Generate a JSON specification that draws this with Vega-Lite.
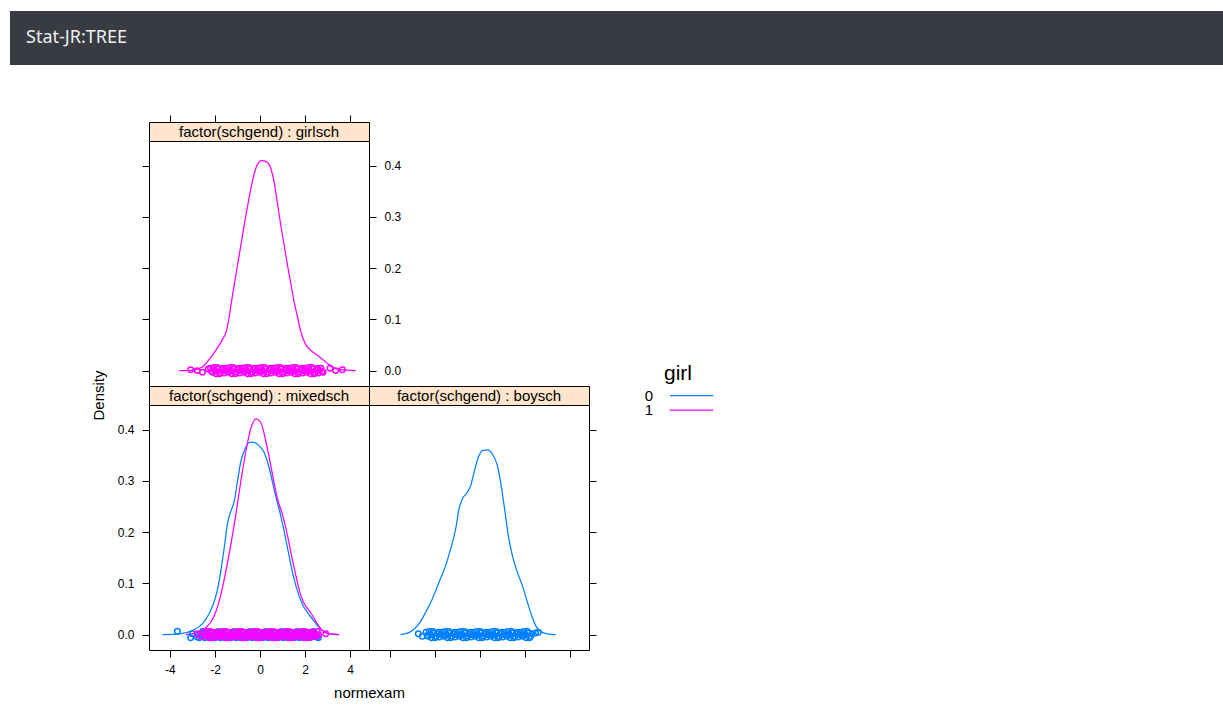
{
"$schema": "https://vega.github.io/schema/vega-lite/v6.json",
"padding": {"left": 10, "top": 11, "right": 0, "bottom": 0},
"background": "#ffffff",
"config": {
  "font": "Liberation Sans",
  "concat": {"spacing": 0},
  "axis": {"domain": false, "grid": false, "ticks": true, "tickColor": "#000000", "tickWidth": 1, "tickSize": 7, "labelFont": "Liberation Sans", "labelFontSize": 12, "labelColor": "#000000", "titleFont": "Liberation Sans", "titleFontSize": 15, "titleFontWeight": "normal", "titleColor": "#000000", "labelOverlap": false, "labelFlush": false}
},
"datasets": {
"dens": [
{"panel":"girlsch","girl":"1","normexam":-3.6,"density":0},
{"panel":"girlsch","girl":"1","normexam":-3.007,"density":0.0007},
{"panel":"girlsch","girl":"1","normexam":-2.563,"density":0.0072},
{"panel":"girlsch","girl":"1","normexam":-2.267,"density":0.0215},
{"panel":"girlsch","girl":"1","normexam":-1.97,"density":0.039},
{"panel":"girlsch","girl":"1","normexam":-1.674,"density":0.0605},
{"panel":"girlsch","girl":"1","normexam":-1.496,"density":0.0767},
{"panel":"girlsch","girl":"1","normexam":-1.378,"density":0.1028},
{"panel":"girlsch","girl":"1","normexam":-1.23,"density":0.145},
{"panel":"girlsch","girl":"1","normexam":-1.081,"density":0.1841},
{"panel":"girlsch","girl":"1","normexam":-0.933,"density":0.2231},
{"panel":"girlsch","girl":"1","normexam":-0.785,"density":0.2621},
{"panel":"girlsch","girl":"1","normexam":-0.607,"density":0.3076},
{"panel":"girlsch","girl":"1","normexam":-0.415,"density":0.3532},
{"panel":"girlsch","girl":"1","normexam":-0.267,"density":0.3824},
{"panel":"girlsch","girl":"1","normexam":-0.119,"density":0.402},
{"panel":"girlsch","girl":"1","normexam":0.074,"density":0.4098},
{"panel":"girlsch","girl":"1","normexam":0.281,"density":0.4078},
{"panel":"girlsch","girl":"1","normexam":0.474,"density":0.3954},
{"panel":"girlsch","girl":"1","normexam":0.622,"density":0.3694},
{"panel":"girlsch","girl":"1","normexam":0.77,"density":0.3272},
{"panel":"girlsch","girl":"1","normexam":0.919,"density":0.2849},
{"panel":"girlsch","girl":"1","normexam":1.067,"density":0.2459},
{"panel":"girlsch","girl":"1","normexam":1.215,"density":0.2068},
{"panel":"girlsch","girl":"1","normexam":1.363,"density":0.1711},
{"panel":"girlsch","girl":"1","normexam":1.511,"density":0.1353},
{"panel":"girlsch","girl":"1","normexam":1.659,"density":0.106},
{"panel":"girlsch","girl":"1","normexam":1.807,"density":0.0767},
{"panel":"girlsch","girl":"1","normexam":2.03,"density":0.0507},
{"panel":"girlsch","girl":"1","normexam":2.252,"density":0.0397},
{"panel":"girlsch","girl":"1","normexam":2.548,"density":0.0299},
{"panel":"girlsch","girl":"1","normexam":2.919,"density":0.0169},
{"panel":"girlsch","girl":"1","normexam":3.215,"density":0.0072},
{"panel":"girlsch","girl":"1","normexam":3.585,"density":0.002},
{"panel":"girlsch","girl":"1","normexam":4.252,"density":0},
{"panel":"mixedsch","girl":"0","normexam":-4.341,"density":0},
{"panel":"mixedsch","girl":"0","normexam":-3.6,"density":0.0013},
{"panel":"mixedsch","girl":"0","normexam":-3.007,"density":0.0078},
{"panel":"mixedsch","girl":"0","normexam":-2.563,"density":0.0208},
{"panel":"mixedsch","girl":"0","normexam":-2.267,"density":0.0403},
{"panel":"mixedsch","girl":"0","normexam":-2.044,"density":0.0631},
{"panel":"mixedsch","girl":"0","normexam":-1.852,"density":0.0956},
{"panel":"mixedsch","girl":"0","normexam":-1.704,"density":0.1346},
{"panel":"mixedsch","girl":"0","normexam":-1.556,"density":0.1802},
{"panel":"mixedsch","girl":"0","normexam":-1.452,"density":0.2152},
{"panel":"mixedsch","girl":"0","normexam":-1.304,"density":0.2395},
{"panel":"mixedsch","girl":"0","normexam":-1.156,"density":0.2582},
{"panel":"mixedsch","girl":"0","normexam":-1.007,"density":0.2972},
{"panel":"mixedsch","girl":"0","normexam":-0.859,"density":0.3363},
{"panel":"mixedsch","girl":"0","normexam":-0.667,"density":0.3623},
{"panel":"mixedsch","girl":"0","normexam":-0.459,"density":0.3753},
{"panel":"mixedsch","girl":"0","normexam":-0.267,"density":0.3753},
{"panel":"mixedsch","girl":"0","normexam":-0.044,"density":0.3688},
{"panel":"mixedsch","girl":"0","normexam":0.178,"density":0.3558},
{"panel":"mixedsch","girl":"0","normexam":0.4,"density":0.3265},
{"panel":"mixedsch","girl":"0","normexam":0.622,"density":0.2842},
{"panel":"mixedsch","girl":"0","normexam":0.77,"density":0.2582},
{"panel":"mixedsch","girl":"0","normexam":0.919,"density":0.2322},
{"panel":"mixedsch","girl":"0","normexam":1.111,"density":0.1932},
{"panel":"mixedsch","girl":"0","normexam":1.289,"density":0.1541},
{"panel":"mixedsch","girl":"0","normexam":1.511,"density":0.1086},
{"panel":"mixedsch","girl":"0","normexam":1.733,"density":0.0761},
{"panel":"mixedsch","girl":"0","normexam":1.911,"density":0.0566},
{"panel":"mixedsch","girl":"0","normexam":2.104,"density":0.0436},
{"panel":"mixedsch","girl":"0","normexam":2.326,"density":0.0306},
{"panel":"mixedsch","girl":"0","normexam":2.548,"density":0.0176},
{"panel":"mixedsch","girl":"0","normexam":2.77,"density":0.0078},
{"panel":"mixedsch","girl":"0","normexam":3.067,"density":0.0013},
{"panel":"mixedsch","girl":"0","normexam":3.511,"density":0},
{"panel":"mixedsch","girl":"1","normexam":-3.304,"density":0},
{"panel":"mixedsch","girl":"1","normexam":-2.859,"density":0.0033},
{"panel":"mixedsch","girl":"1","normexam":-2.489,"density":0.0111},
{"panel":"mixedsch","girl":"1","normexam":-2.193,"density":0.0241},
{"panel":"mixedsch","girl":"1","normexam":-1.97,"density":0.0436},
{"panel":"mixedsch","girl":"1","normexam":-1.748,"density":0.0761},
{"panel":"mixedsch","girl":"1","normexam":-1.526,"density":0.1216},
{"panel":"mixedsch","girl":"1","normexam":-1.304,"density":0.1737},
{"panel":"mixedsch","girl":"1","normexam":-1.081,"density":0.2322},
{"panel":"mixedsch","girl":"1","normexam":-0.859,"density":0.2972},
{"panel":"mixedsch","girl":"1","normexam":-0.637,"density":0.3558},
{"panel":"mixedsch","girl":"1","normexam":-0.415,"density":0.4013},
{"panel":"mixedsch","girl":"1","normexam":-0.163,"density":0.4208},
{"panel":"mixedsch","girl":"1","normexam":0.03,"density":0.4143},
{"panel":"mixedsch","girl":"1","normexam":0.222,"density":0.385},
{"panel":"mixedsch","girl":"1","normexam":0.42,"density":0.3428},
{"panel":"mixedsch","girl":"1","normexam":0.62,"density":0.2972},
{"panel":"mixedsch","girl":"1","normexam":0.82,"density":0.2582},
{"panel":"mixedsch","girl":"1","normexam":1.01,"density":0.2322},
{"panel":"mixedsch","girl":"1","normexam":1.19,"density":0.1997},
{"panel":"mixedsch","girl":"1","normexam":1.37,"density":0.1607},
{"panel":"mixedsch","girl":"1","normexam":1.56,"density":0.1216},
{"panel":"mixedsch","girl":"1","normexam":1.75,"density":0.0859},
{"panel":"mixedsch","girl":"1","normexam":1.93,"density":0.0631},
{"panel":"mixedsch","girl":"1","normexam":2.07,"density":0.0533},
{"panel":"mixedsch","girl":"1","normexam":2.29,"density":0.0403},
{"panel":"mixedsch","girl":"1","normexam":2.5,"density":0.0241},
{"panel":"mixedsch","girl":"1","normexam":2.71,"density":0.0111},
{"panel":"mixedsch","girl":"1","normexam":2.93,"density":0.0033},
{"panel":"mixedsch","girl":"1","normexam":3.511,"density":0},
{"panel":"boysch","girl":"0","normexam":-3.526,"density":0},
{"panel":"boysch","girl":"0","normexam":-3.081,"density":0.0059},
{"panel":"boysch","girl":"0","normexam":-2.711,"density":0.0208},
{"panel":"boysch","girl":"0","normexam":-2.415,"density":0.0436},
{"panel":"boysch","girl":"0","normexam":-2.119,"density":0.0696},
{"panel":"boysch","girl":"0","normexam":-1.822,"density":0.1021},
{"panel":"boysch","girl":"0","normexam":-1.526,"density":0.1346},
{"panel":"boysch","girl":"0","normexam":-1.304,"density":0.1672},
{"panel":"boysch","girl":"0","normexam":-1.081,"density":0.2062},
{"panel":"boysch","girl":"0","normexam":-0.933,"density":0.2452},
{"panel":"boysch","girl":"0","normexam":-0.785,"density":0.2647},
{"panel":"boysch","girl":"0","normexam":-0.563,"density":0.2777},
{"panel":"boysch","girl":"0","normexam":-0.415,"density":0.2907},
{"panel":"boysch","girl":"0","normexam":-0.267,"density":0.3167},
{"panel":"boysch","girl":"0","normexam":-0.074,"density":0.346},
{"panel":"boysch","girl":"0","normexam":0.104,"density":0.359},
{"panel":"boysch","girl":"0","normexam":0.326,"density":0.3603},
{"panel":"boysch","girl":"0","normexam":0.548,"density":0.3525},
{"panel":"boysch","girl":"0","normexam":0.77,"density":0.3298},
{"panel":"boysch","girl":"0","normexam":0.963,"density":0.2842},
{"panel":"boysch","girl":"0","normexam":1.111,"density":0.2387},
{"panel":"boysch","girl":"0","normexam":1.259,"density":0.1932},
{"panel":"boysch","girl":"0","normexam":1.437,"density":0.1541},
{"panel":"boysch","girl":"0","normexam":1.659,"density":0.1216},
{"panel":"boysch","girl":"0","normexam":1.881,"density":0.0956},
{"panel":"boysch","girl":"0","normexam":2.104,"density":0.0631},
{"panel":"boysch","girl":"0","normexam":2.296,"density":0.0371},
{"panel":"boysch","girl":"0","normexam":2.474,"density":0.0176},
{"panel":"boysch","girl":"0","normexam":2.696,"density":0.0059},
{"panel":"boysch","girl":"0","normexam":2.993,"density":0.0013},
{"panel":"boysch","girl":"0","normexam":3.363,"density":0}
],
"rug": [
{"panel":"girlsch","girl":"1","normexam":-3.08,"density":0.0015},
{"panel":"girlsch","girl":"1","normexam":-2.79,"density":0},
{"panel":"girlsch","girl":"1","normexam":-2.56,"density":-0.003},
{"panel":"girlsch","girl":"1","normexam":-2.3,"density":0.003},
{"panel":"girlsch","girl":"1","normexam":-2.2,"density":0.0045},
{"panel":"girlsch","girl":"1","normexam":-2.15,"density":-0.0015},
{"panel":"girlsch","girl":"1","normexam":-2.1,"density":-0.003},
{"panel":"girlsch","girl":"1","normexam":-2.05,"density":0.006},
{"panel":"girlsch","girl":"1","normexam":-2.0,"density":0},
{"panel":"girlsch","girl":"1","normexam":-1.95,"density":-0.006},
{"panel":"girlsch","girl":"1","normexam":-1.9,"density":0.006},
{"panel":"girlsch","girl":"1","normexam":-1.85,"density":0.003},
{"panel":"girlsch","girl":"1","normexam":-1.8,"density":-0.006},
{"panel":"girlsch","girl":"1","normexam":-1.75,"density":-0.003},
{"panel":"girlsch","girl":"1","normexam":-1.7,"density":0.0015},
{"panel":"girlsch","girl":"1","normexam":-1.65,"density":0.0045},
{"panel":"girlsch","girl":"1","normexam":-1.6,"density":-0.0045},
{"panel":"girlsch","girl":"1","normexam":-1.55,"density":0},
{"panel":"girlsch","girl":"1","normexam":-1.5,"density":0.0045},
{"panel":"girlsch","girl":"1","normexam":-1.45,"density":-0.0015},
{"panel":"girlsch","girl":"1","normexam":-1.4,"density":-0.003},
{"panel":"girlsch","girl":"1","normexam":-1.35,"density":0.006},
{"panel":"girlsch","girl":"1","normexam":-1.3,"density":0},
{"panel":"girlsch","girl":"1","normexam":-1.25,"density":-0.006},
{"panel":"girlsch","girl":"1","normexam":-1.2,"density":0.006},
{"panel":"girlsch","girl":"1","normexam":-1.15,"density":0.003},
{"panel":"girlsch","girl":"1","normexam":-1.1,"density":-0.006},
{"panel":"girlsch","girl":"1","normexam":-1.05,"density":-0.003},
{"panel":"girlsch","girl":"1","normexam":-1.0,"density":0.0015},
{"panel":"girlsch","girl":"1","normexam":-0.95,"density":0.0045},
{"panel":"girlsch","girl":"1","normexam":-0.9,"density":-0.0045},
{"panel":"girlsch","girl":"1","normexam":-0.85,"density":0},
{"panel":"girlsch","girl":"1","normexam":-0.8,"density":0.0045},
{"panel":"girlsch","girl":"1","normexam":-0.75,"density":-0.0015},
{"panel":"girlsch","girl":"1","normexam":-0.7,"density":-0.003},
{"panel":"girlsch","girl":"1","normexam":-0.65,"density":0.006},
{"panel":"girlsch","girl":"1","normexam":-0.6,"density":0},
{"panel":"girlsch","girl":"1","normexam":-0.55,"density":-0.006},
{"panel":"girlsch","girl":"1","normexam":-0.5,"density":0.006},
{"panel":"girlsch","girl":"1","normexam":-0.45,"density":0.003},
{"panel":"girlsch","girl":"1","normexam":-0.4,"density":-0.006},
{"panel":"girlsch","girl":"1","normexam":-0.35,"density":-0.003},
{"panel":"girlsch","girl":"1","normexam":-0.3,"density":0.0015},
{"panel":"girlsch","girl":"1","normexam":-0.25,"density":0.0045},
{"panel":"girlsch","girl":"1","normexam":-0.2,"density":-0.0045},
{"panel":"girlsch","girl":"1","normexam":-0.15,"density":0},
{"panel":"girlsch","girl":"1","normexam":-0.1,"density":0.0045},
{"panel":"girlsch","girl":"1","normexam":-0.05,"density":-0.0015},
{"panel":"girlsch","girl":"1","normexam":0.0,"density":-0.003},
{"panel":"girlsch","girl":"1","normexam":0.05,"density":0.006},
{"panel":"girlsch","girl":"1","normexam":0.1,"density":0},
{"panel":"girlsch","girl":"1","normexam":0.15,"density":-0.006},
{"panel":"girlsch","girl":"1","normexam":0.2,"density":0.006},
{"panel":"girlsch","girl":"1","normexam":0.25,"density":0.003},
{"panel":"girlsch","girl":"1","normexam":0.3,"density":-0.006},
{"panel":"girlsch","girl":"1","normexam":0.35,"density":-0.003},
{"panel":"girlsch","girl":"1","normexam":0.4,"density":0.0015},
{"panel":"girlsch","girl":"1","normexam":0.45,"density":0.0045},
{"panel":"girlsch","girl":"1","normexam":0.5,"density":-0.0045},
{"panel":"girlsch","girl":"1","normexam":0.55,"density":0},
{"panel":"girlsch","girl":"1","normexam":0.6,"density":0.0045},
{"panel":"girlsch","girl":"1","normexam":0.65,"density":-0.0015},
{"panel":"girlsch","girl":"1","normexam":0.7,"density":-0.003},
{"panel":"girlsch","girl":"1","normexam":0.75,"density":0.006},
{"panel":"girlsch","girl":"1","normexam":0.8,"density":0},
{"panel":"girlsch","girl":"1","normexam":0.85,"density":-0.006},
{"panel":"girlsch","girl":"1","normexam":0.9,"density":0.006},
{"panel":"girlsch","girl":"1","normexam":0.95,"density":0.003},
{"panel":"girlsch","girl":"1","normexam":1.0,"density":-0.006},
{"panel":"girlsch","girl":"1","normexam":1.05,"density":-0.003},
{"panel":"girlsch","girl":"1","normexam":1.1,"density":0.0015},
{"panel":"girlsch","girl":"1","normexam":1.15,"density":0.0045},
{"panel":"girlsch","girl":"1","normexam":1.2,"density":-0.0045},
{"panel":"girlsch","girl":"1","normexam":1.25,"density":0},
{"panel":"girlsch","girl":"1","normexam":1.3,"density":0.0045},
{"panel":"girlsch","girl":"1","normexam":1.35,"density":-0.0015},
{"panel":"girlsch","girl":"1","normexam":1.4,"density":-0.003},
{"panel":"girlsch","girl":"1","normexam":1.45,"density":0.006},
{"panel":"girlsch","girl":"1","normexam":1.5,"density":0},
{"panel":"girlsch","girl":"1","normexam":1.55,"density":-0.006},
{"panel":"girlsch","girl":"1","normexam":1.6,"density":0.006},
{"panel":"girlsch","girl":"1","normexam":1.65,"density":0.003},
{"panel":"girlsch","girl":"1","normexam":1.7,"density":-0.006},
{"panel":"girlsch","girl":"1","normexam":1.75,"density":-0.003},
{"panel":"girlsch","girl":"1","normexam":1.8,"density":0.0015},
{"panel":"girlsch","girl":"1","normexam":1.85,"density":0.0045},
{"panel":"girlsch","girl":"1","normexam":1.9,"density":-0.0045},
{"panel":"girlsch","girl":"1","normexam":1.95,"density":0},
{"panel":"girlsch","girl":"1","normexam":2.0,"density":0.0045},
{"panel":"girlsch","girl":"1","normexam":2.05,"density":-0.0015},
{"panel":"girlsch","girl":"1","normexam":2.1,"density":-0.003},
{"panel":"girlsch","girl":"1","normexam":2.15,"density":0.006},
{"panel":"girlsch","girl":"1","normexam":2.2,"density":0},
{"panel":"girlsch","girl":"1","normexam":2.25,"density":-0.006},
{"panel":"girlsch","girl":"1","normexam":2.3,"density":0.006},
{"panel":"girlsch","girl":"1","normexam":2.35,"density":0.003},
{"panel":"girlsch","girl":"1","normexam":2.4,"density":-0.006},
{"panel":"girlsch","girl":"1","normexam":2.45,"density":-0.003},
{"panel":"girlsch","girl":"1","normexam":2.5,"density":0.0015},
{"panel":"girlsch","girl":"1","normexam":2.55,"density":0.0045},
{"panel":"girlsch","girl":"1","normexam":2.6,"density":-0.0045},
{"panel":"girlsch","girl":"1","normexam":2.65,"density":0},
{"panel":"girlsch","girl":"1","normexam":2.7,"density":0.0045},
{"panel":"girlsch","girl":"1","normexam":2.75,"density":-0.0015},
{"panel":"girlsch","girl":"1","normexam":2.8,"density":-0.003},
{"panel":"girlsch","girl":"1","normexam":3.11,"density":0.0045},
{"panel":"girlsch","girl":"1","normexam":3.36,"density":0},
{"panel":"girlsch","girl":"1","normexam":3.66,"density":0.0015},
{"panel":"mixedsch","girl":"0","normexam":-3.67,"density":0.0065},
{"panel":"mixedsch","girl":"0","normexam":-3.08,"density":-0.006},
{"panel":"mixedsch","girl":"0","normexam":-3.0,"density":0.0015},
{"panel":"mixedsch","girl":"0","normexam":-2.79,"density":-0.0045},
{"panel":"mixedsch","girl":"0","normexam":-2.7,"density":-0.006},
{"panel":"mixedsch","girl":"0","normexam":-2.65,"density":-0.0015},
{"panel":"mixedsch","girl":"0","normexam":-2.6,"density":0.0015},
{"panel":"mixedsch","girl":"0","normexam":-2.55,"density":0.006},
{"panel":"mixedsch","girl":"0","normexam":-2.5,"density":-0.003},
{"panel":"mixedsch","girl":"0","normexam":-2.45,"density":-0.006},
{"panel":"mixedsch","girl":"0","normexam":-2.4,"density":0.0045},
{"panel":"mixedsch","girl":"0","normexam":-2.35,"density":0.003},
{"panel":"mixedsch","girl":"0","normexam":-2.3,"density":-0.0045},
{"panel":"mixedsch","girl":"0","normexam":-2.25,"density":-0.003},
{"panel":"mixedsch","girl":"0","normexam":-2.2,"density":0},
{"panel":"mixedsch","girl":"0","normexam":-2.15,"density":0.0045},
{"panel":"mixedsch","girl":"0","normexam":-2.1,"density":-0.0015},
{"panel":"mixedsch","girl":"0","normexam":-2.05,"density":0},
{"panel":"mixedsch","girl":"0","normexam":-2.0,"density":-0.006},
{"panel":"mixedsch","girl":"0","normexam":-1.95,"density":-0.0015},
{"panel":"mixedsch","girl":"0","normexam":-1.9,"density":0.0015},
{"panel":"mixedsch","girl":"0","normexam":-1.85,"density":0.006},
{"panel":"mixedsch","girl":"0","normexam":-1.8,"density":-0.003},
{"panel":"mixedsch","girl":"0","normexam":-1.75,"density":-0.006},
{"panel":"mixedsch","girl":"0","normexam":-1.7,"density":0.0045},
{"panel":"mixedsch","girl":"0","normexam":-1.65,"density":0.003},
{"panel":"mixedsch","girl":"0","normexam":-1.6,"density":-0.0045},
{"panel":"mixedsch","girl":"0","normexam":-1.55,"density":-0.003},
{"panel":"mixedsch","girl":"0","normexam":-1.5,"density":0},
{"panel":"mixedsch","girl":"0","normexam":-1.45,"density":0.0045},
{"panel":"mixedsch","girl":"0","normexam":-1.4,"density":-0.0015},
{"panel":"mixedsch","girl":"0","normexam":-1.35,"density":0},
{"panel":"mixedsch","girl":"0","normexam":-1.3,"density":-0.006},
{"panel":"mixedsch","girl":"0","normexam":-1.25,"density":-0.0015},
{"panel":"mixedsch","girl":"0","normexam":-1.2,"density":0.0015},
{"panel":"mixedsch","girl":"0","normexam":-1.15,"density":0.006},
{"panel":"mixedsch","girl":"0","normexam":-1.1,"density":-0.003},
{"panel":"mixedsch","girl":"0","normexam":-1.05,"density":-0.006},
{"panel":"mixedsch","girl":"0","normexam":-1.0,"density":0.0045},
{"panel":"mixedsch","girl":"0","normexam":-0.95,"density":0.003},
{"panel":"mixedsch","girl":"0","normexam":-0.9,"density":-0.0045},
{"panel":"mixedsch","girl":"0","normexam":-0.85,"density":-0.003},
{"panel":"mixedsch","girl":"0","normexam":-0.8,"density":0},
{"panel":"mixedsch","girl":"0","normexam":-0.75,"density":0.0045},
{"panel":"mixedsch","girl":"0","normexam":-0.7,"density":-0.0015},
{"panel":"mixedsch","girl":"0","normexam":-0.65,"density":0},
{"panel":"mixedsch","girl":"0","normexam":-0.6,"density":-0.006},
{"panel":"mixedsch","girl":"0","normexam":-0.55,"density":-0.0015},
{"panel":"mixedsch","girl":"0","normexam":-0.5,"density":0.0015},
{"panel":"mixedsch","girl":"0","normexam":-0.45,"density":0.006},
{"panel":"mixedsch","girl":"0","normexam":-0.4,"density":-0.003},
{"panel":"mixedsch","girl":"0","normexam":-0.35,"density":-0.006},
{"panel":"mixedsch","girl":"0","normexam":-0.3,"density":0.0045},
{"panel":"mixedsch","girl":"0","normexam":-0.25,"density":0.003},
{"panel":"mixedsch","girl":"0","normexam":-0.2,"density":-0.0045},
{"panel":"mixedsch","girl":"0","normexam":-0.15,"density":-0.003},
{"panel":"mixedsch","girl":"0","normexam":-0.1,"density":0},
{"panel":"mixedsch","girl":"0","normexam":-0.05,"density":0.0045},
{"panel":"mixedsch","girl":"0","normexam":0.0,"density":-0.0015},
{"panel":"mixedsch","girl":"0","normexam":0.05,"density":0},
{"panel":"mixedsch","girl":"0","normexam":0.1,"density":-0.006},
{"panel":"mixedsch","girl":"0","normexam":0.15,"density":-0.0015},
{"panel":"mixedsch","girl":"0","normexam":0.2,"density":0.0015},
{"panel":"mixedsch","girl":"0","normexam":0.25,"density":0.006},
{"panel":"mixedsch","girl":"0","normexam":0.3,"density":-0.003},
{"panel":"mixedsch","girl":"0","normexam":0.35,"density":-0.006},
{"panel":"mixedsch","girl":"0","normexam":0.4,"density":0.0045},
{"panel":"mixedsch","girl":"0","normexam":0.45,"density":0.003},
{"panel":"mixedsch","girl":"0","normexam":0.5,"density":-0.0045},
{"panel":"mixedsch","girl":"0","normexam":0.55,"density":-0.003},
{"panel":"mixedsch","girl":"0","normexam":0.6,"density":0},
{"panel":"mixedsch","girl":"0","normexam":0.65,"density":0.0045},
{"panel":"mixedsch","girl":"0","normexam":0.7,"density":-0.0015},
{"panel":"mixedsch","girl":"0","normexam":0.75,"density":0},
{"panel":"mixedsch","girl":"0","normexam":0.8,"density":-0.006},
{"panel":"mixedsch","girl":"0","normexam":0.85,"density":-0.0015},
{"panel":"mixedsch","girl":"0","normexam":0.9,"density":0.0015},
{"panel":"mixedsch","girl":"0","normexam":0.95,"density":0.006},
{"panel":"mixedsch","girl":"0","normexam":1.0,"density":-0.003},
{"panel":"mixedsch","girl":"0","normexam":1.05,"density":-0.006},
{"panel":"mixedsch","girl":"0","normexam":1.1,"density":0.0045},
{"panel":"mixedsch","girl":"0","normexam":1.15,"density":0.003},
{"panel":"mixedsch","girl":"0","normexam":1.2,"density":-0.0045},
{"panel":"mixedsch","girl":"0","normexam":1.25,"density":-0.003},
{"panel":"mixedsch","girl":"0","normexam":1.3,"density":0},
{"panel":"mixedsch","girl":"0","normexam":1.35,"density":0.0045},
{"panel":"mixedsch","girl":"0","normexam":1.4,"density":-0.0015},
{"panel":"mixedsch","girl":"0","normexam":1.45,"density":0},
{"panel":"mixedsch","girl":"0","normexam":1.5,"density":-0.006},
{"panel":"mixedsch","girl":"0","normexam":1.55,"density":-0.0015},
{"panel":"mixedsch","girl":"0","normexam":1.6,"density":0.0015},
{"panel":"mixedsch","girl":"0","normexam":1.65,"density":0.006},
{"panel":"mixedsch","girl":"0","normexam":1.7,"density":-0.003},
{"panel":"mixedsch","girl":"0","normexam":1.75,"density":-0.006},
{"panel":"mixedsch","girl":"0","normexam":1.8,"density":0.0045},
{"panel":"mixedsch","girl":"0","normexam":1.85,"density":0.003},
{"panel":"mixedsch","girl":"0","normexam":1.9,"density":-0.0045},
{"panel":"mixedsch","girl":"0","normexam":1.95,"density":-0.003},
{"panel":"mixedsch","girl":"0","normexam":2.0,"density":0},
{"panel":"mixedsch","girl":"0","normexam":2.05,"density":0.0045},
{"panel":"mixedsch","girl":"0","normexam":2.1,"density":-0.0015},
{"panel":"mixedsch","girl":"0","normexam":2.15,"density":0},
{"panel":"mixedsch","girl":"0","normexam":2.2,"density":-0.006},
{"panel":"mixedsch","girl":"0","normexam":2.25,"density":-0.0015},
{"panel":"mixedsch","girl":"0","normexam":2.3,"density":0.0015},
{"panel":"mixedsch","girl":"0","normexam":2.35,"density":0.006},
{"panel":"mixedsch","girl":"0","normexam":2.4,"density":-0.003},
{"panel":"mixedsch","girl":"0","normexam":2.52,"density":-0.0045},
{"panel":"mixedsch","girl":"0","normexam":2.59,"density":-0.006},
{"panel":"mixedsch","girl":"1","normexam":-2.79,"density":0.0015},
{"panel":"mixedsch","girl":"1","normexam":-2.62,"density":-0.003},
{"panel":"mixedsch","girl":"1","normexam":-2.5,"density":0.0045},
{"panel":"mixedsch","girl":"1","normexam":-2.45,"density":-0.0015},
{"panel":"mixedsch","girl":"1","normexam":-2.4,"density":-0.003},
{"panel":"mixedsch","girl":"1","normexam":-2.35,"density":0.006},
{"panel":"mixedsch","girl":"1","normexam":-2.3,"density":0},
{"panel":"mixedsch","girl":"1","normexam":-2.25,"density":-0.006},
{"panel":"mixedsch","girl":"1","normexam":-2.2,"density":0.006},
{"panel":"mixedsch","girl":"1","normexam":-2.15,"density":0.003},
{"panel":"mixedsch","girl":"1","normexam":-2.1,"density":-0.006},
{"panel":"mixedsch","girl":"1","normexam":-2.05,"density":-0.003},
{"panel":"mixedsch","girl":"1","normexam":-2.0,"density":0.0015},
{"panel":"mixedsch","girl":"1","normexam":-1.95,"density":0.0045},
{"panel":"mixedsch","girl":"1","normexam":-1.9,"density":-0.0045},
{"panel":"mixedsch","girl":"1","normexam":-1.85,"density":0},
{"panel":"mixedsch","girl":"1","normexam":-1.8,"density":0.0045},
{"panel":"mixedsch","girl":"1","normexam":-1.75,"density":-0.0015},
{"panel":"mixedsch","girl":"1","normexam":-1.7,"density":-0.003},
{"panel":"mixedsch","girl":"1","normexam":-1.65,"density":0.006},
{"panel":"mixedsch","girl":"1","normexam":-1.6,"density":0},
{"panel":"mixedsch","girl":"1","normexam":-1.55,"density":-0.006},
{"panel":"mixedsch","girl":"1","normexam":-1.5,"density":0.006},
{"panel":"mixedsch","girl":"1","normexam":-1.45,"density":0.003},
{"panel":"mixedsch","girl":"1","normexam":-1.4,"density":-0.006},
{"panel":"mixedsch","girl":"1","normexam":-1.35,"density":-0.003},
{"panel":"mixedsch","girl":"1","normexam":-1.3,"density":0.0015},
{"panel":"mixedsch","girl":"1","normexam":-1.25,"density":0.0045},
{"panel":"mixedsch","girl":"1","normexam":-1.2,"density":-0.0045},
{"panel":"mixedsch","girl":"1","normexam":-1.15,"density":0},
{"panel":"mixedsch","girl":"1","normexam":-1.1,"density":0.0045},
{"panel":"mixedsch","girl":"1","normexam":-1.05,"density":-0.0015},
{"panel":"mixedsch","girl":"1","normexam":-1.0,"density":-0.003},
{"panel":"mixedsch","girl":"1","normexam":-0.95,"density":0.006},
{"panel":"mixedsch","girl":"1","normexam":-0.9,"density":0},
{"panel":"mixedsch","girl":"1","normexam":-0.85,"density":-0.006},
{"panel":"mixedsch","girl":"1","normexam":-0.8,"density":0.006},
{"panel":"mixedsch","girl":"1","normexam":-0.75,"density":0.003},
{"panel":"mixedsch","girl":"1","normexam":-0.7,"density":-0.006},
{"panel":"mixedsch","girl":"1","normexam":-0.65,"density":-0.003},
{"panel":"mixedsch","girl":"1","normexam":-0.6,"density":0.0015},
{"panel":"mixedsch","girl":"1","normexam":-0.55,"density":0.0045},
{"panel":"mixedsch","girl":"1","normexam":-0.5,"density":-0.0045},
{"panel":"mixedsch","girl":"1","normexam":-0.45,"density":0},
{"panel":"mixedsch","girl":"1","normexam":-0.4,"density":0.0045},
{"panel":"mixedsch","girl":"1","normexam":-0.35,"density":-0.0015},
{"panel":"mixedsch","girl":"1","normexam":-0.3,"density":-0.003},
{"panel":"mixedsch","girl":"1","normexam":-0.25,"density":0.006},
{"panel":"mixedsch","girl":"1","normexam":-0.2,"density":0},
{"panel":"mixedsch","girl":"1","normexam":-0.15,"density":-0.006},
{"panel":"mixedsch","girl":"1","normexam":-0.1,"density":0.006},
{"panel":"mixedsch","girl":"1","normexam":-0.05,"density":0.003},
{"panel":"mixedsch","girl":"1","normexam":0.0,"density":-0.006},
{"panel":"mixedsch","girl":"1","normexam":0.05,"density":-0.003},
{"panel":"mixedsch","girl":"1","normexam":0.1,"density":0.0015},
{"panel":"mixedsch","girl":"1","normexam":0.15,"density":0.0045},
{"panel":"mixedsch","girl":"1","normexam":0.2,"density":-0.0045},
{"panel":"mixedsch","girl":"1","normexam":0.25,"density":0},
{"panel":"mixedsch","girl":"1","normexam":0.3,"density":0.0045},
{"panel":"mixedsch","girl":"1","normexam":0.35,"density":-0.0015},
{"panel":"mixedsch","girl":"1","normexam":0.4,"density":-0.003},
{"panel":"mixedsch","girl":"1","normexam":0.45,"density":0.006},
{"panel":"mixedsch","girl":"1","normexam":0.5,"density":0},
{"panel":"mixedsch","girl":"1","normexam":0.55,"density":-0.006},
{"panel":"mixedsch","girl":"1","normexam":0.6,"density":0.006},
{"panel":"mixedsch","girl":"1","normexam":0.65,"density":0.003},
{"panel":"mixedsch","girl":"1","normexam":0.7,"density":-0.006},
{"panel":"mixedsch","girl":"1","normexam":0.75,"density":-0.003},
{"panel":"mixedsch","girl":"1","normexam":0.8,"density":0.0015},
{"panel":"mixedsch","girl":"1","normexam":0.85,"density":0.0045},
{"panel":"mixedsch","girl":"1","normexam":0.9,"density":-0.0045},
{"panel":"mixedsch","girl":"1","normexam":0.95,"density":0},
{"panel":"mixedsch","girl":"1","normexam":1.0,"density":0.0045},
{"panel":"mixedsch","girl":"1","normexam":1.05,"density":-0.0015},
{"panel":"mixedsch","girl":"1","normexam":1.1,"density":-0.003},
{"panel":"mixedsch","girl":"1","normexam":1.15,"density":0.006},
{"panel":"mixedsch","girl":"1","normexam":1.2,"density":0},
{"panel":"mixedsch","girl":"1","normexam":1.25,"density":-0.006},
{"panel":"mixedsch","girl":"1","normexam":1.3,"density":0.006},
{"panel":"mixedsch","girl":"1","normexam":1.35,"density":0.003},
{"panel":"mixedsch","girl":"1","normexam":1.4,"density":-0.006},
{"panel":"mixedsch","girl":"1","normexam":1.45,"density":-0.003},
{"panel":"mixedsch","girl":"1","normexam":1.5,"density":0.0015},
{"panel":"mixedsch","girl":"1","normexam":1.55,"density":0.0045},
{"panel":"mixedsch","girl":"1","normexam":1.6,"density":-0.0045},
{"panel":"mixedsch","girl":"1","normexam":1.65,"density":0},
{"panel":"mixedsch","girl":"1","normexam":1.7,"density":0.0045},
{"panel":"mixedsch","girl":"1","normexam":1.75,"density":-0.0015},
{"panel":"mixedsch","girl":"1","normexam":1.8,"density":-0.003},
{"panel":"mixedsch","girl":"1","normexam":1.85,"density":0.006},
{"panel":"mixedsch","girl":"1","normexam":1.9,"density":0},
{"panel":"mixedsch","girl":"1","normexam":1.95,"density":-0.006},
{"panel":"mixedsch","girl":"1","normexam":2.0,"density":0.006},
{"panel":"mixedsch","girl":"1","normexam":2.05,"density":0.003},
{"panel":"mixedsch","girl":"1","normexam":2.1,"density":-0.006},
{"panel":"mixedsch","girl":"1","normexam":2.15,"density":-0.003},
{"panel":"mixedsch","girl":"1","normexam":2.2,"density":0.0015},
{"panel":"mixedsch","girl":"1","normexam":2.25,"density":0.0045},
{"panel":"mixedsch","girl":"1","normexam":2.3,"density":-0.0045},
{"panel":"mixedsch","girl":"1","normexam":2.35,"density":0},
{"panel":"mixedsch","girl":"1","normexam":2.4,"density":0.0045},
{"panel":"mixedsch","girl":"1","normexam":2.45,"density":-0.0015},
{"panel":"mixedsch","girl":"1","normexam":2.5,"density":-0.003},
{"panel":"mixedsch","girl":"1","normexam":2.55,"density":0.006},
{"panel":"mixedsch","girl":"1","normexam":2.6,"density":0},
{"panel":"mixedsch","girl":"1","normexam":2.92,"density":0.0015},
{"panel":"boysch","girl":"0","normexam":-2.74,"density":0.0015},
{"panel":"boysch","girl":"0","normexam":-2.56,"density":-0.003},
{"panel":"boysch","girl":"0","normexam":-2.4,"density":0.0045},
{"panel":"boysch","girl":"0","normexam":-2.35,"density":-0.0015},
{"panel":"boysch","girl":"0","normexam":-2.3,"density":-0.003},
{"panel":"boysch","girl":"0","normexam":-2.25,"density":0.006},
{"panel":"boysch","girl":"0","normexam":-2.2,"density":0},
{"panel":"boysch","girl":"0","normexam":-2.15,"density":-0.006},
{"panel":"boysch","girl":"0","normexam":-2.1,"density":0.006},
{"panel":"boysch","girl":"0","normexam":-2.05,"density":0.003},
{"panel":"boysch","girl":"0","normexam":-2.0,"density":-0.006},
{"panel":"boysch","girl":"0","normexam":-1.95,"density":-0.003},
{"panel":"boysch","girl":"0","normexam":-1.9,"density":0.0015},
{"panel":"boysch","girl":"0","normexam":-1.85,"density":0.0045},
{"panel":"boysch","girl":"0","normexam":-1.8,"density":-0.0045},
{"panel":"boysch","girl":"0","normexam":-1.75,"density":0},
{"panel":"boysch","girl":"0","normexam":-1.7,"density":0.0045},
{"panel":"boysch","girl":"0","normexam":-1.65,"density":-0.0015},
{"panel":"boysch","girl":"0","normexam":-1.6,"density":-0.003},
{"panel":"boysch","girl":"0","normexam":-1.55,"density":0.006},
{"panel":"boysch","girl":"0","normexam":-1.5,"density":0},
{"panel":"boysch","girl":"0","normexam":-1.45,"density":-0.006},
{"panel":"boysch","girl":"0","normexam":-1.4,"density":0.006},
{"panel":"boysch","girl":"0","normexam":-1.35,"density":0.003},
{"panel":"boysch","girl":"0","normexam":-1.3,"density":-0.006},
{"panel":"boysch","girl":"0","normexam":-1.25,"density":-0.003},
{"panel":"boysch","girl":"0","normexam":-1.2,"density":0.0015},
{"panel":"boysch","girl":"0","normexam":-1.15,"density":0.0045},
{"panel":"boysch","girl":"0","normexam":-1.1,"density":-0.0045},
{"panel":"boysch","girl":"0","normexam":-1.05,"density":0},
{"panel":"boysch","girl":"0","normexam":-1.0,"density":0.0045},
{"panel":"boysch","girl":"0","normexam":-0.95,"density":-0.0015},
{"panel":"boysch","girl":"0","normexam":-0.9,"density":-0.003},
{"panel":"boysch","girl":"0","normexam":-0.85,"density":0.006},
{"panel":"boysch","girl":"0","normexam":-0.8,"density":0},
{"panel":"boysch","girl":"0","normexam":-0.75,"density":-0.006},
{"panel":"boysch","girl":"0","normexam":-0.7,"density":0.006},
{"panel":"boysch","girl":"0","normexam":-0.65,"density":0.003},
{"panel":"boysch","girl":"0","normexam":-0.6,"density":-0.006},
{"panel":"boysch","girl":"0","normexam":-0.55,"density":-0.003},
{"panel":"boysch","girl":"0","normexam":-0.5,"density":0.0015},
{"panel":"boysch","girl":"0","normexam":-0.45,"density":0.0045},
{"panel":"boysch","girl":"0","normexam":-0.4,"density":-0.0045},
{"panel":"boysch","girl":"0","normexam":-0.35,"density":0},
{"panel":"boysch","girl":"0","normexam":-0.3,"density":0.0045},
{"panel":"boysch","girl":"0","normexam":-0.25,"density":-0.0015},
{"panel":"boysch","girl":"0","normexam":-0.2,"density":-0.003},
{"panel":"boysch","girl":"0","normexam":-0.15,"density":0.006},
{"panel":"boysch","girl":"0","normexam":-0.1,"density":0},
{"panel":"boysch","girl":"0","normexam":-0.05,"density":-0.006},
{"panel":"boysch","girl":"0","normexam":0.0,"density":0.006},
{"panel":"boysch","girl":"0","normexam":0.05,"density":0.003},
{"panel":"boysch","girl":"0","normexam":0.1,"density":-0.006},
{"panel":"boysch","girl":"0","normexam":0.15,"density":-0.003},
{"panel":"boysch","girl":"0","normexam":0.2,"density":0.0015},
{"panel":"boysch","girl":"0","normexam":0.25,"density":0.0045},
{"panel":"boysch","girl":"0","normexam":0.3,"density":-0.0045},
{"panel":"boysch","girl":"0","normexam":0.35,"density":0},
{"panel":"boysch","girl":"0","normexam":0.4,"density":0.0045},
{"panel":"boysch","girl":"0","normexam":0.45,"density":-0.0015},
{"panel":"boysch","girl":"0","normexam":0.5,"density":-0.003},
{"panel":"boysch","girl":"0","normexam":0.55,"density":0.006},
{"panel":"boysch","girl":"0","normexam":0.6,"density":0},
{"panel":"boysch","girl":"0","normexam":0.65,"density":-0.006},
{"panel":"boysch","girl":"0","normexam":0.7,"density":0.006},
{"panel":"boysch","girl":"0","normexam":0.75,"density":0.003},
{"panel":"boysch","girl":"0","normexam":0.8,"density":-0.006},
{"panel":"boysch","girl":"0","normexam":0.85,"density":-0.003},
{"panel":"boysch","girl":"0","normexam":0.9,"density":0.0015},
{"panel":"boysch","girl":"0","normexam":0.95,"density":0.0045},
{"panel":"boysch","girl":"0","normexam":1.0,"density":-0.0045},
{"panel":"boysch","girl":"0","normexam":1.05,"density":0},
{"panel":"boysch","girl":"0","normexam":1.1,"density":0.0045},
{"panel":"boysch","girl":"0","normexam":1.15,"density":-0.0015},
{"panel":"boysch","girl":"0","normexam":1.2,"density":-0.003},
{"panel":"boysch","girl":"0","normexam":1.25,"density":0.006},
{"panel":"boysch","girl":"0","normexam":1.3,"density":0},
{"panel":"boysch","girl":"0","normexam":1.35,"density":-0.006},
{"panel":"boysch","girl":"0","normexam":1.4,"density":0.006},
{"panel":"boysch","girl":"0","normexam":1.45,"density":0.003},
{"panel":"boysch","girl":"0","normexam":1.5,"density":-0.006},
{"panel":"boysch","girl":"0","normexam":1.55,"density":-0.003},
{"panel":"boysch","girl":"0","normexam":1.6,"density":0.0015},
{"panel":"boysch","girl":"0","normexam":1.65,"density":0.0045},
{"panel":"boysch","girl":"0","normexam":1.7,"density":-0.0045},
{"panel":"boysch","girl":"0","normexam":1.75,"density":0},
{"panel":"boysch","girl":"0","normexam":1.8,"density":0.0045},
{"panel":"boysch","girl":"0","normexam":1.85,"density":-0.0015},
{"panel":"boysch","girl":"0","normexam":1.9,"density":-0.003},
{"panel":"boysch","girl":"0","normexam":1.95,"density":0.006},
{"panel":"boysch","girl":"0","normexam":2.0,"density":0},
{"panel":"boysch","girl":"0","normexam":2.05,"density":-0.006},
{"panel":"boysch","girl":"0","normexam":2.1,"density":0.006},
{"panel":"boysch","girl":"0","normexam":2.15,"density":0.003},
{"panel":"boysch","girl":"0","normexam":2.2,"density":-0.006},
{"panel":"boysch","girl":"0","normexam":2.25,"density":-0.003},
{"panel":"boysch","girl":"0","normexam":2.3,"density":0.0015},
{"panel":"boysch","girl":"0","normexam":2.47,"density":0.003},
{"panel":"boysch","girl":"0","normexam":2.59,"density":0.0045}
]
},
"spacing": 49,
"vconcat": [
  {
    "width": 1213, "height": 54,
    "view": {"fill": "#383b42", "stroke": null},
    "data": {"values": [{"title": "Stat-JR:TREE", "pos": 0}]},
    "mark": {"type": "text", "align": "left", "baseline": "middle", "dx": 16, "font": "Noto Sans", "fontSize": 18, "color": "#eef0f2"},
    "encoding": {
      "text": {"field": "title"},
      "x": {"field": "pos", "type": "quantitative", "scale": {"domain": [0, 1]}, "axis": null}
    }
  },
  {
    "spacing": 0,
    "hconcat": [
      {"width": 80, "height": 1, "view": {"stroke": null}, "data": {"values": []}, "mark": "text"},
      {
        "columns": 3,
        "spacing": 0,
        "bounds": "flush",
        "concat": [
          {
            "width": 220, "height": 19,
            "view": {"fill": "#ffe5cc", "stroke": "#000000"},
            "data": {"values": [{"strip": "factor(schgend) : girlsch"}]},
            "mark": {"type": "text", "fontSize": 15, "font": "Liberation Sans", "baseline": "middle", "align": "center", "color": "#000000"},
            "encoding": {"text": {"field": "strip"}}
          },
          {"width": 1, "height": 1, "view": {"stroke": null}, "data": {"values": []}, "mark": "text"},
          {"width": 1, "height": 1, "view": {"stroke": null}, "data": {"values": []}, "mark": "text"},
          {
            "width": 220, "height": 245,
            "view": {"stroke": "#000000", "strokeWidth": 1},
            "layer": [
              {
                "data": {"name": "dens"},
                "transform": [{"filter": "datum.panel === 'girlsch'"}],
                "mark": {"type": "line", "strokeWidth": 1.25, "interpolate": "monotone"},
                "encoding": {
                  "x": {"field": "normexam", "type": "quantitative", "scale": {"domain": [-4.93, 4.84], "nice": false, "zero": false}, "axis": {"orient": "top", "offset": 19, "values": [-4, -2, 0, 2, 4], "labels": false, "title": null}},
                  "y": {"field": "density", "type": "quantitative", "scale": {"domain": [-0.03, 0.448], "nice": false, "zero": false}, "axis": {"orient": "left", "values": [0, 0.1, 0.2, 0.3, 0.4], "labels": false, "title": null}},
                  "color": {"field": "girl", "type": "nominal", "scale": {"domain": ["0", "1"], "range": ["#0080ff", "#ff00ff"]}, "legend": null}
                }
              },
              {
                "data": {"name": "rug"},
                "transform": [{"filter": "datum.panel === 'girlsch'"}],
                "mark": {"type": "point", "shape": "circle", "filled": false, "size": 30, "strokeWidth": 1.5, "opacity": 1},
                "encoding": {
                  "x": {"field": "normexam", "type": "quantitative", "scale": {"domain": [-4.93, 4.84], "nice": false, "zero": false}, "axis": {"orient": "top", "offset": 19, "values": [-4, -2, 0, 2, 4], "labels": false, "title": null}},
                  "y": {"field": "density", "type": "quantitative", "scale": {"domain": [-0.03, 0.448], "nice": false, "zero": false}, "axis": {"orient": "right", "values": [0, 0.1, 0.2, 0.3, 0.4], "format": ".1f", "labelPadding": 8, "title": null}},
                  "color": {"field": "girl", "type": "nominal", "scale": {"domain": ["0", "1"], "range": ["#0080ff", "#ff00ff"]}, "legend": null}
                }
              }
            ],
            "resolve": {"axis": {"y": "independent"}}
          },
          {"width": 1, "height": 1, "view": {"stroke": null}, "data": {"values": []}, "mark": "text"},
          {"width": 1, "height": 1, "view": {"stroke": null}, "data": {"values": []}, "mark": "text"},
          {
            "width": 220, "height": 19,
            "view": {"fill": "#ffe5cc", "stroke": "#000000"},
            "data": {"values": [{"strip": "factor(schgend) : mixedsch"}]},
            "mark": {"type": "text", "fontSize": 15, "font": "Liberation Sans", "baseline": "middle", "align": "center", "color": "#000000"},
            "encoding": {"text": {"field": "strip"}}
          },
          {
            "width": 220, "height": 19,
            "view": {"fill": "#ffe5cc", "stroke": "#000000"},
            "data": {"values": [{"strip": "factor(schgend) : boysch"}]},
            "mark": {"type": "text", "fontSize": 15, "font": "Liberation Sans", "baseline": "middle", "align": "center", "color": "#000000"},
            "encoding": {"text": {"field": "strip"}}
          },
          {
            "width": 125, "height": 19,
            "view": {"stroke": null},
            "title": {"text": "girl", "font": "Liberation Sans", "fontSize": 21, "fontWeight": "normal", "color": "#000000", "anchor": "start", "dx": 75, "baseline": "alphabetic", "offset": -15},
            "data": {"values": [{"girl": "0"}, {"girl": "1"}]},
            "layer": [
              {
                "mark": {"type": "text", "align": "right", "baseline": "middle", "font": "Liberation Sans", "fontSize": 15, "color": "#000000"},
                "encoding": {
                  "text": {"field": "girl"},
                  "x": {"datum": 64, "type": "quantitative", "scale": {"domain": [0, 125], "nice": false, "zero": false}, "axis": null},
                  "y": {"field": "girl", "type": "nominal", "scale": {"type": "point", "range": [9.5, 24.1], "padding": 0}, "axis": null}
                }
              },
              {
                "mark": {"type": "rule", "strokeWidth": 1.25},
                "encoding": {
                  "x": {"datum": 80.7, "type": "quantitative", "scale": {"domain": [0, 125], "nice": false, "zero": false}, "axis": null},
                  "x2": {"datum": 124.3},
                  "y": {"field": "girl", "type": "nominal", "scale": {"type": "point", "range": [9.5, 24.1], "padding": 0}, "axis": null},
                  "color": {"field": "girl", "type": "nominal", "scale": {"domain": ["0", "1"], "range": ["#0080ff", "#ff00ff"]}, "legend": null}
                }
              }
            ]
          },
          {
            "width": 220, "height": 245,
            "view": {"stroke": "#000000", "strokeWidth": 1},
            "layer": [
              {
                "data": {"name": "dens"},
                "transform": [{"filter": "datum.panel === 'mixedsch'"}],
                "mark": {"type": "line", "strokeWidth": 1.25, "interpolate": "monotone"},
                "encoding": {
                  "x": {"field": "normexam", "type": "quantitative", "scale": {"domain": [-4.93, 4.84], "nice": false, "zero": false}, "axis": {"orient": "bottom", "values": [-4, -2, 0, 2, 4], "labelPadding": 7, "labelExpr": "datum.value + ''", "title": "normexam", "titleX": 220, "titleY": 47, "titleAlign": "center", "titleBaseline": "alphabetic"}},
                  "y": {"field": "density", "type": "quantitative", "scale": {"domain": [-0.03, 0.448], "nice": false, "zero": false}, "axis": {"orient": "left", "values": [0, 0.1, 0.2, 0.3, 0.4], "format": ".1f", "labelPadding": 8, "title": "Density", "titleX": -46, "titleY": -10, "titleAlign": "center", "titleBaseline": "alphabetic", "titleAngle": 270}},
                  "color": {"field": "girl", "type": "nominal", "scale": {"domain": ["0", "1"], "range": ["#0080ff", "#ff00ff"]}, "legend": null}
                }
              },
              {
                "data": {"name": "rug"},
                "transform": [{"filter": "datum.panel === 'mixedsch'"}],
                "mark": {"type": "point", "shape": "circle", "filled": false, "size": 30, "strokeWidth": 1.5, "opacity": 1},
                "encoding": {
                  "x": {"field": "normexam", "type": "quantitative", "scale": {"domain": [-4.93, 4.84], "nice": false, "zero": false}, "axis": {"orient": "bottom", "values": [-4, -2, 0, 2, 4], "labelPadding": 7, "labelExpr": "datum.value + ''", "title": "normexam", "titleX": 220, "titleY": 47, "titleAlign": "center", "titleBaseline": "alphabetic"}},
                  "y": {"field": "density", "type": "quantitative", "scale": {"domain": [-0.03, 0.448], "nice": false, "zero": false}, "axis": {"orient": "left", "values": [0, 0.1, 0.2, 0.3, 0.4], "format": ".1f", "labelPadding": 8, "title": "Density", "titleX": -46, "titleY": -10, "titleAlign": "center", "titleBaseline": "alphabetic", "titleAngle": 270}},
                  "color": {"field": "girl", "type": "nominal", "scale": {"domain": ["0", "1"], "range": ["#0080ff", "#ff00ff"]}, "legend": null}
                }
              }
            ]
          },
          {
            "width": 220, "height": 245,
            "view": {"stroke": "#000000", "strokeWidth": 1},
            "layer": [
              {
                "data": {"name": "dens"},
                "transform": [{"filter": "datum.panel === 'boysch'"}],
                "mark": {"type": "line", "strokeWidth": 1.25, "interpolate": "monotone"},
                "encoding": {
                  "x": {"field": "normexam", "type": "quantitative", "scale": {"domain": [-4.93, 4.84], "nice": false, "zero": false}, "axis": {"orient": "bottom", "values": [-4, -2, 0, 2, 4], "labels": false, "title": null}},
                  "y": {"field": "density", "type": "quantitative", "scale": {"domain": [-0.03, 0.448], "nice": false, "zero": false}, "axis": {"orient": "right", "values": [0, 0.1, 0.2, 0.3, 0.4], "labels": false, "title": null}},
                  "color": {"field": "girl", "type": "nominal", "scale": {"domain": ["0", "1"], "range": ["#0080ff", "#ff00ff"]}, "legend": null}
                }
              },
              {
                "data": {"name": "rug"},
                "transform": [{"filter": "datum.panel === 'boysch'"}],
                "mark": {"type": "point", "shape": "circle", "filled": false, "size": 30, "strokeWidth": 1.5, "opacity": 1},
                "encoding": {
                  "x": {"field": "normexam", "type": "quantitative", "scale": {"domain": [-4.93, 4.84], "nice": false, "zero": false}, "axis": {"orient": "bottom", "values": [-4, -2, 0, 2, 4], "labels": false, "title": null}},
                  "y": {"field": "density", "type": "quantitative", "scale": {"domain": [-0.03, 0.448], "nice": false, "zero": false}, "axis": {"orient": "right", "values": [0, 0.1, 0.2, 0.3, 0.4], "labels": false, "title": null}},
                  "color": {"field": "girl", "type": "nominal", "scale": {"domain": ["0", "1"], "range": ["#0080ff", "#ff00ff"]}, "legend": null}
                }
              }
            ]
          }
        ]
      }
    ]
  }
]
}
